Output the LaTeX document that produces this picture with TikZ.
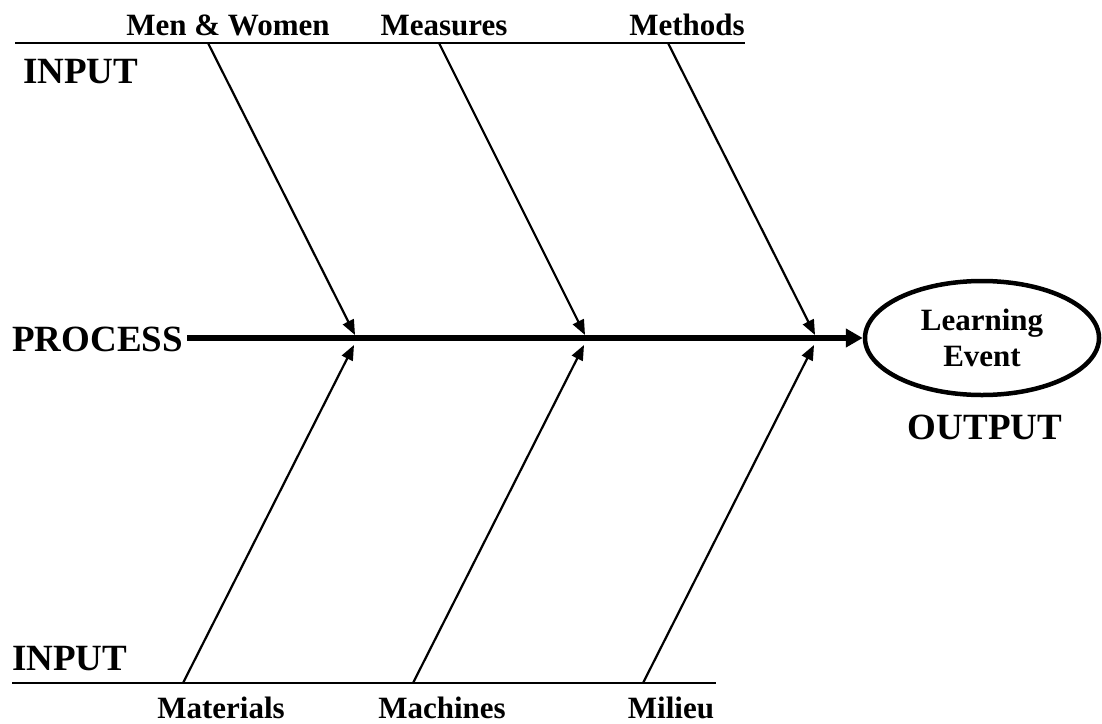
\documentclass[tikz,border=0pt]{standalone}
\usepackage{fontspec}
\setmainfont{Liberation Serif}
\usetikzlibrary{arrows.meta,shapes.geometric}

\begin{document}
\begin{tikzpicture}[x=1pt,y=-1pt,
    bigtext/.style={font=\bfseries\fontsize{37}{40}\selectfont,inner sep=0pt,anchor=base west},
    cause/.style={font=\bfseries\fontsize{31}{34}\selectfont,inner sep=0pt,anchor=base},
    rib/.style={line width=2.3pt},
    bone/.style={line width=2.2pt,-{Triangle[length=15pt,width=12pt]}},
    spine/.style={line width=6pt,-{Triangle[length=17pt,width=18pt]}}]
    \useasboundingbox (0,0) rectangle (1102,723);

    % Output event
    \node[draw, ellipse, line width=4.5pt, minimum width=234pt, minimum height=114pt,
          inner sep=0pt, align=center, font=\bfseries\fontsize{31}{36}\selectfont]
          (event) at (982,338) {Learning\\Event};
    \node[font=\bfseries\fontsize{37}{40}\selectfont, inner sep=0pt, anchor=base]
          (output) at (985,439) {OUTPUT};

    % Labels on the left
    \node[bigtext] (intop) at (23,83) {INPUT};
    \node[bigtext] (process) at (12,351) {PROCESS};
    \node[bigtext] (inbot) at (12,670) {INPUT};

    % Cause labels
    \node[cause] (men) at (228,35) {Men \& Women};
    \node[cause] (measures) at (444,35) {Measures};
    \node[cause] (methods) at (687,35) {Methods};
    \node[cause] (materials) at (221,718) {Materials};
    \node[cause] (machines) at (442,718) {Machines};
    \node[cause] (milieu) at (671,718) {Milieu};

    % Ends of the two input lines
    \coordinate (topL) at (15,43);
    \coordinate (topR) at (745,43);
    \coordinate (botL) at (12,683);
    \coordinate (botR) at (716,683);

    % Where the bones start and end
    \coordinate (t1) at (208,43);
    \coordinate (t2) at (439,43);
    \coordinate (t3) at (668,43);
    \coordinate (b1) at (183,683);
    \coordinate (b2) at (413,683);
    \coordinate (b3) at (643,683);
    \coordinate (ht1) at (355,335);
    \coordinate (ht2) at (585,335);
    \coordinate (ht3) at (815,335);
    \coordinate (hb1) at (354,345);
    \coordinate (hb2) at (584,345);
    \coordinate (hb3) at (814,345);

    % Draw the input lines
    \draw[rib] (topL) -- (topR);
    \draw[rib] (botL) -- (botR);

    % Draw the spine
    \draw[spine] ([xshift=4pt]process.east |- event.west) -- (event.west);

    % Draw the bones
    \draw[bone] (t1) -- (ht1);
    \draw[bone] (t2) -- (ht2);
    \draw[bone] (t3) -- (ht3);
    \draw[bone] (b1) -- (hb1);
    \draw[bone] (b2) -- (hb2);
    \draw[bone] (b3) -- (hb3);
\end{tikzpicture}
\end{document}
